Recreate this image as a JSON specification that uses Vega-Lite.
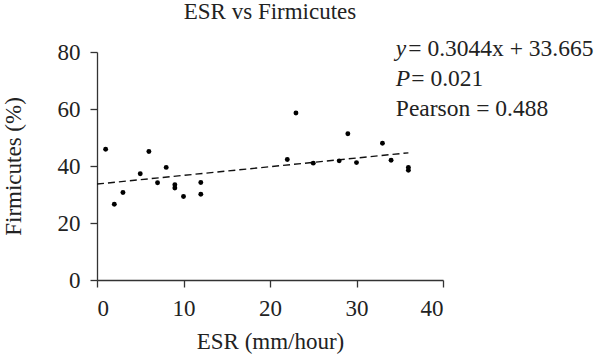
{
  "$schema": "https://vega.github.io/schema/vega-lite/v6.json",
  "autosize": "none",
  "width": 346,
  "height": 228,
  "padding": {"left": 97, "top": 52, "right": 157, "bottom": 81},
  "background": "white",
  "title": {"text": "ESR vs Firmicutes", "anchor": "middle", "font": "Liberation Serif", "fontSize": 23, "fontWeight": "normal", "color": "#222", "baseline": "alphabetic", "offset": -5},
  "config": {
    "view": {"stroke": null},
    "axis": {"grid": false, "domainColor": "#333", "tickColor": "#333", "domainWidth": 1.3, "tickWidth": 1.3, "tickSize": 7, "labelFont": "Liberation Serif", "labelFontSize": 23, "labelColor": "#222", "titleFont": "Liberation Serif", "titleFontSize": 23, "titleFontWeight": "normal", "titleColor": "#222"}
  },
  "datasets": {
    "points": [
      {"esr": 1, "firm": 45.9}, {"esr": 2, "firm": 26.6}, {"esr": 3, "firm": 30.7},
      {"esr": 5, "firm": 37.3}, {"esr": 6, "firm": 45.1}, {"esr": 7, "firm": 34.1},
      {"esr": 8, "firm": 39.5}, {"esr": 9, "firm": 33.4}, {"esr": 9, "firm": 32.3},
      {"esr": 10, "firm": 29.3}, {"esr": 12, "firm": 34.2}, {"esr": 12, "firm": 30.1},
      {"esr": 22, "firm": 42.3}, {"esr": 23, "firm": 58.6}, {"esr": 25, "firm": 41.0},
      {"esr": 28, "firm": 41.8}, {"esr": 29, "firm": 51.3}, {"esr": 30, "firm": 41.2},
      {"esr": 33, "firm": 48.0}, {"esr": 34, "firm": 42.0}, {"esr": 36, "firm": 39.5},
      {"esr": 36, "firm": 38.5}
    ],
    "fit": [{"esr": 0, "firm": 33.665}, {"esr": 36, "firm": 44.623}],
    "note": [{"key": "stats"}]
  },
  "layer": [
    {
      "data": {"name": "fit"},
      "mark": {"type": "line", "color": "#111", "strokeWidth": 1.4, "strokeDash": [7, 4]},
      "encoding": {
        "x": {"field": "esr", "type": "quantitative", "scale": {"domain": [0, 40]}, "axis": {"values": [0, 10, 20, 30, 40], "title": "ESR (mm/hour)", "labelPadding": 10, "titlePadding": 10}},
        "y": {"field": "firm", "type": "quantitative", "scale": {"domain": [0, 80]}, "axis": {"values": [0, 20, 40, 60, 80], "title": "Firmicutes (%)", "labelPadding": 10, "titlePadding": 32}}
      }
    },
    {
      "data": {"name": "points"},
      "mark": {"type": "circle", "color": "#000", "opacity": 1, "size": 24},
      "encoding": {
        "x": {"field": "esr", "type": "quantitative"},
        "y": {"field": "firm", "type": "quantitative"}
      }
    },
    {
      "data": {"name": "note"},
      "mark": {"type": "text", "align": "left", "baseline": "alphabetic", "font": "Liberation Serif", "fontSize": 23.5, "fontStyle": "italic", "color": "#222"},
      "encoding": {"x": {"datum": 34.55}, "y": {"datum": 78.6}, "text": {"value": "y"}}
    },
    {
      "data": {"name": "note"},
      "mark": {"type": "text", "align": "left", "baseline": "alphabetic", "font": "Liberation Serif", "fontSize": 23.5, "color": "#222", "dx": 12.5},
      "encoding": {"x": {"datum": 34.55}, "y": {"datum": 78.6}, "text": {"value": "= 0.3044x + 33.665"}}
    },
    {
      "data": {"name": "note"},
      "mark": {"type": "text", "align": "left", "baseline": "alphabetic", "font": "Liberation Serif", "fontSize": 23.5, "fontStyle": "italic", "color": "#222"},
      "encoding": {"x": {"datum": 34.55}, "y": {"datum": 68.2}, "text": {"value": "P"}}
    },
    {
      "data": {"name": "note"},
      "mark": {"type": "text", "align": "left", "baseline": "alphabetic", "font": "Liberation Serif", "fontSize": 23.5, "color": "#222", "dx": 15.5},
      "encoding": {"x": {"datum": 34.55}, "y": {"datum": 68.2}, "text": {"value": "= 0.021"}}
    },
    {
      "data": {"name": "note"},
      "mark": {"type": "text", "align": "left", "baseline": "alphabetic", "font": "Liberation Serif", "fontSize": 23.5, "color": "#222"},
      "encoding": {"x": {"datum": 34.55}, "y": {"datum": 57.6}, "text": {"value": "Pearson = 0.488"}}
    }
  ]
}
